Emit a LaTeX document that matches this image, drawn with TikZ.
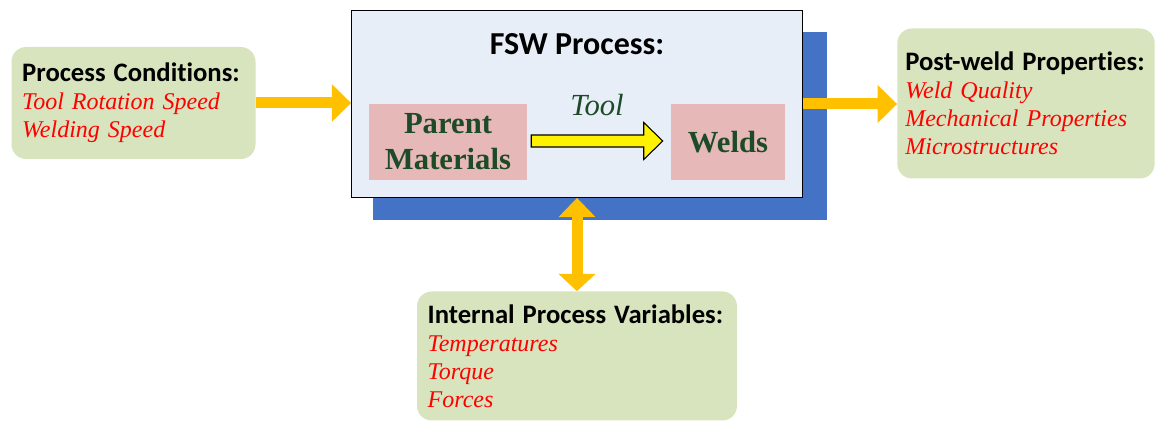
\documentclass[tikz,border=0pt]{standalone}
\usepackage{fontspec}
\setmainfont{Liberation Serif}[ItalicFont={Liberation Serif Italic},BoldFont={Liberation Serif Bold},BoldItalicFont={Liberation Serif Bold Italic}]
\newfontfamily\calibri{Carlito}[Ligatures=NoCommon]
\usepackage{tikz}
\usetikzlibrary{arrows.meta,calc,positioning}

\definecolor{boxgreen}{HTML}{D7E4BD}
\definecolor{arrowgold}{HTML}{FFC000}
\definecolor{shadowblue}{HTML}{4472C4}
\definecolor{fswfill}{HTML}{E8EEF8}
\definecolor{matpink}{HTML}{E6B9B8}
\definecolor{matgreen}{HTML}{1D4B28}
\definecolor{itemred}{HTML}{FF0000}

\newcommand{\boxtitle}[1]{{\calibri\bfseries\fontsize{20}{21}\selectfont #1}}
\newcommand{\boxitem}[1]{{\color{itemred}\itshape\fontsize{18}{21}\selectfont #1}}

\tikzset{
  infobox/.style={fill=boxgreen,draw=none,rounded corners=11pt,align=left,
    inner xsep=8pt,font=\fontsize{18}{21}\selectfont},
  matbox/.style={fill=matpink,draw=none,text=matgreen,align=center,
    font=\bfseries\fontsize{23}{27}\selectfont},
  flow/.style={arrowgold,line width=8.25pt,-{Triangle[width=27.5pt,length=14.5pt]}},
  twoflow/.style={arrowgold,line width=8.25pt,
    {Triangle[width=27pt,length=14.5pt]}-{Triangle[width=27pt,length=13pt]}}
}

\begin{document}
\begin{tikzpicture}[x=0.75pt,y=-0.75pt]
  \useasboundingbox (0,0) rectangle (1156,423);
%boxes
  \node[fill=shadowblue,minimum width=340.5pt,minimum height=140.75pt] (fswshadow) at (600,126) {};
  \node[fill=fswfill,draw=black,line width=0.6pt,minimum width=338.25pt,minimum height=140.25pt] (fsw) at (577,104) {};
  \node[anchor=base,font=\calibri\bfseries\fontsize{24}{27}\selectfont] (fswtitle) at (577,55) {FSW Process:};
  \node[matbox,minimum width=118.5pt,minimum height=57pt] (parent) at (448,142) {Parent\\Materials};
  \node[matbox,minimum width=85.5pt,minimum height=57pt] (welds) at (728,142) {Welds};
  \node[infobox,text width=167pt,minimum height=84pt] (cond) at (133.5,103)
    {\boxtitle{Process Conditions:}\\\boxitem{Tool Rotation Speed}\\\boxitem{Welding Speed}};
  \node[infobox,text width=181pt,inner xsep=6pt,minimum height=112.5pt] (post) at (1026,103.5)
    {\boxtitle{Post-weld Properties:}\\\boxitem{Weld Quality}\\\boxitem{Mechanical Properties}\\\boxitem{Microstructures}};
  \node[infobox,text width=224pt,minimum height=96.75pt] (vars) at (577,356)
    {\boxtitle{Internal Process Variables:}\\\boxitem{Temperatures}\\\boxitem{Torque}\\\boxitem{Forces}};
%tool arrow
  \coordinate (toolA) at ($(parent.east)+(4,-1)$);
  \coordinate (toolB) at ($(welds.west)+(-8,-1)$);
  \draw[fill=yellow,line width=0.8pt,line join=miter] ($(toolA)+(0,-6)$) -- ($(toolB)+(-19,-6)$) -- ($(toolB)+(-19,-18.5)$)
    -- (toolB) -- ($(toolB)+(-19,18.5)$) -- ($(toolB)+(-19,6)$) -- ($(toolA)+(0,6)$) -- cycle;
  \node[anchor=base,text=matgreen,font=\itshape\fontsize{23}{27}\selectfont] (tool) at (597,116) {Tool};
%flows
  \draw[flow] (cond.east) -- (cond.east -| fsw.west);
  \draw[flow] (fsw.east) -- (fsw.east -| post.west);
  \draw[twoflow] (fsw.south) -- (vars.north);
\end{tikzpicture}
\end{document}
